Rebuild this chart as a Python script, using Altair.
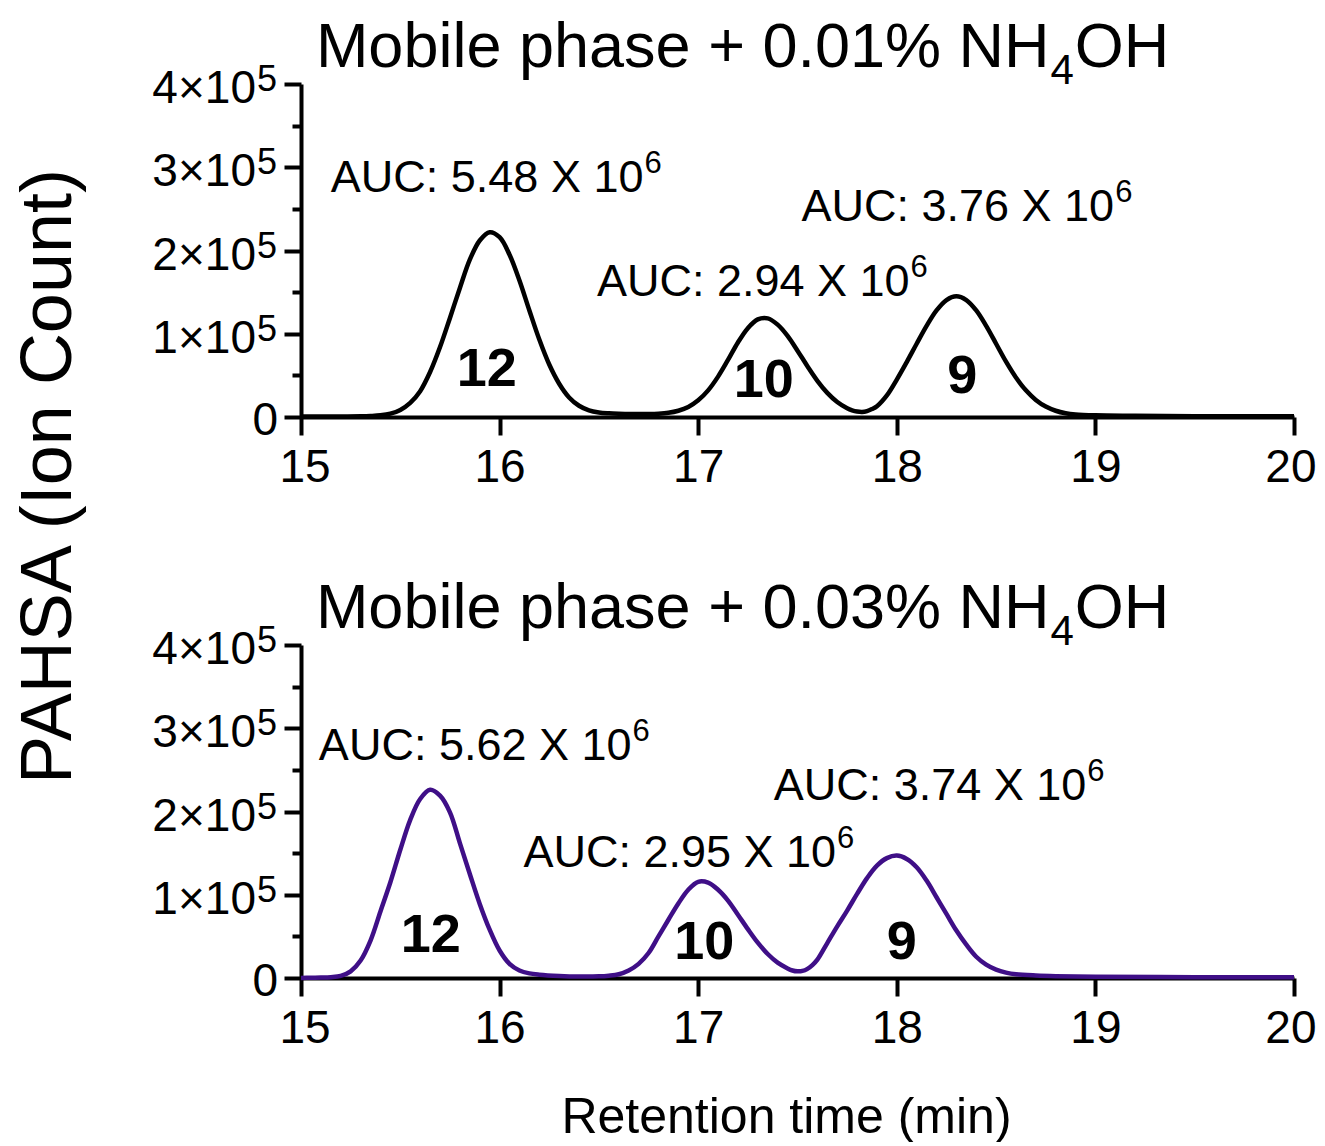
import altair as alt
import pandas as pd

FONT = "Liberation Sans"

# ---- Trace 1: Mobile phase + 0.01% NH4OH (ion count, thousands) ----
top_t = [15.0, 15.1, 15.2, 15.3, 15.35, 15.4, 15.45, 15.5, 15.55, 15.6, 15.65, 15.7, 15.75, 15.8,
         15.85, 15.9, 15.95, 16.0, 16.05, 16.1, 16.15, 16.2, 16.25, 16.3, 16.35, 16.4, 16.45, 16.5,
         16.55, 16.6, 16.7, 16.8, 16.85, 16.9, 16.95, 17.0, 17.05, 17.1, 17.15, 17.2, 17.25, 17.3,
         17.35, 17.4, 17.45, 17.5, 17.55, 17.6, 17.65, 17.7, 17.75, 17.775, 17.8, 17.825, 17.85,
         17.875, 17.9, 17.95, 18.0, 18.05, 18.1, 18.15, 18.2, 18.25, 18.3, 18.35, 18.4, 18.45,
         18.5, 18.55, 18.6, 18.65, 18.7, 18.75, 18.8, 18.85, 18.9, 19.0, 19.2, 19.5, 20.0]
top_v = [0.5, 0.5, 0.5, 0.8, 1.2, 2, 4, 8.5, 17, 31, 54, 84, 119, 155,
         189, 212, 222, 216, 195, 164, 128, 93, 63, 40, 23.5, 13.5, 8, 5.5,
         4.5, 4, 3.5, 4, 5, 7.5, 12, 20, 32, 48.5, 68.5, 89.5, 106.7, 117.2,
         118.5, 111, 97.5, 79.7, 61, 43.5, 29, 18, 10.5, 8, 6.5, 6, 7,
         9.5, 13, 26, 45, 66, 88, 109.4, 128, 140.5, 145, 140.5, 128, 109.4,
         88, 66.5, 47.5, 32, 20.5, 12.5, 7.5, 4.5, 3, 2, 1.5, 1, 0.8]

# ---- Trace 2: Mobile phase + 0.03% NH4OH (ion count, thousands) ----
bot_t = [15.0, 15.05, 15.1, 15.15, 15.2, 15.25, 15.3, 15.35, 15.4, 15.45, 15.5, 15.55, 15.6,
         15.65, 15.7, 15.75, 15.8, 15.85, 15.9, 15.95, 16.0, 16.05, 16.1, 16.15, 16.2, 16.3,
         16.4, 16.5, 16.55, 16.6, 16.65, 16.7, 16.75, 16.8, 16.85, 16.9, 16.95, 17.0, 17.05,
         17.1, 17.15, 17.2, 17.25, 17.3, 17.35, 17.4, 17.45, 17.475, 17.5, 17.525, 17.55, 17.575,
         17.6, 17.65, 17.7, 17.75, 17.8, 17.85, 17.9, 17.95, 18.0, 18.05, 18.1, 18.15, 18.2,
         18.25, 18.3, 18.35, 18.4, 18.45, 18.5, 18.55, 18.6, 18.7, 18.8, 19.0, 19.5, 20.0]
bot_v = [0, 0.3, 0.5, 1, 2.5, 8, 21, 45, 80, 115, 154, 190, 215,
         226, 219, 199, 162, 125, 89, 58, 33, 17, 9, 5.5, 4, 2.5,
         1.8, 2, 2.8, 4.5, 9, 17, 30, 50, 70, 89.5, 106, 115.5, 114.5,
         106, 93, 76, 58.7, 42.4, 28.8, 18.4, 11.5, 9, 8, 8.5, 11, 15.5,
         22, 42, 62, 81, 101, 120, 135, 144, 147, 143, 133, 117, 97,
         77, 57, 40, 25.5, 16, 10, 6.5, 4.5, 3, 2.2, 1.5, 1, 0.8]

# ---- Text ----
top_title = ["Mobile phase + 0.01% NH", "4", "OH"]
bot_title = ["Mobile phase + 0.03% NH", "4", "OH"]
title_x = 15.075
title_y = 420000

top_auc_text = ["AUC: 5.48 X 10", "AUC: 2.94 X 10", "AUC: 3.76 X 10"]
top_auc_x = [15.15, 16.49, 17.52]
top_auc_y = [270000, 145000, 235000]
top_iso_text = ["12", "10", "9"]
top_iso_x = [15.935, 17.33, 18.33]
top_iso_y = [37000, 24000, 29000]

bot_auc_text = ["AUC: 5.62 X 10", "AUC: 2.95 X 10", "AUC: 3.74 X 10"]
bot_auc_x = [15.09, 16.12, 17.38]
bot_auc_y = [262000, 133000, 214000]
bot_iso_text = ["12", "10", "9"]
bot_iso_x = [15.653, 17.03, 18.025]
bot_iso_y = [31000, 23000, 23000]

auc_exponent = "6"
x_ticks = [15, 16, 17, 18, 19, 20]
y_ticks = [i * 50000 for i in range(9)]
y_major = [100000, 200000, 300000, 400000]
y_major_base = ["1\u00d710", "2\u00d710", "3\u00d710", "4\u00d710"]
y_major_exp = ["5", "5", "5", "5"]
y_zero = [0]
y_zero_label = ["0"]

# Arial / Liberation Sans advance widths (per 1000 em), used to place super/subscripts
ADV = {" ": 278, "A": 667, "U": 722, "C": 722, ":": 278, ".": 278, "X": 667, "M": 833,
       "o": 556, "b": 556, "i": 222, "l": 222, "e": 556, "p": 556, "h": 556, "a": 556,
       "s": 500, "+": 584, "%": 889, "N": 722, "H": 722, "O": 778}


def text_width(s, size):
    return sum(ADV.get(c, 556) for c in s) * size / 1000.0


W, H = 993, 333
TITLE_FS, SUB_FS = 63, 42
AUC_FS, SUP_FS = 45, 31
YL_FS, YL_SUP_FS = 46, 36
XL_FS = 46
xscale = alt.Scale(domain=[15, 20], nice=False, zero=False)
yscale = alt.Scale(domain=[0, 400000], nice=False)


def panel(t, v, color, title, auc_text, auc_x, auc_y, iso_text, iso_x, iso_y, first):
    df = pd.DataFrame({"t": t, "v": [k * 1000 for k in v]})
    xaxis = alt.Axis(
        values=x_ticks, format="d", labelFont=FONT, labelFontSize=XL_FS, labelColor="black",
        labelPadding=10, labelFlush=True, labelFlushOffset=22,
        domainColor="black", domainWidth=4,
        tickColor="black", tickWidth=4, tickSize=18, grid=False,
        title=None if first else "Retention time (min)",
        titleFont=FONT, titleFontSize=50, titleFontWeight="normal", titleColor="black",
        titleX=485, titleY=154, titleAlign="center", titleBaseline="alphabetic",
    )
    yaxis = alt.Axis(
        values=y_ticks, labels=False, domainColor="black",
        domainWidth=4, tickColor="black", tickWidth=4,
        tickSize={"condition": {"test": "datum.value % 100000 === 0", "value": 17}, "value": 9},
        grid=False,
        title="PAHSA (Ion Count)" if first else None,
        titleFont=FONT, titleFontSize=72, titleFontWeight="normal", titleColor="black",
        titleX=-231, titleY=392, titleAngle=270, titleAlign="center", titleBaseline="alphabetic",
    )
    enc_x = alt.X("x:Q", scale=xscale)
    enc_y = alt.Y("y:Q", scale=yscale)

    line = alt.Chart(df).mark_line(color=color, strokeWidth=4.5,
                                   interpolate="catmull-rom").encode(
        x=alt.X("t:Q", scale=xscale, axis=xaxis),
        y=alt.Y("v:Q", scale=yscale, axis=yaxis),
    )

    # y tick labels with a real superscript exponent
    ymdf = pd.DataFrame({"y": y_major, "base": y_major_base, "exp": y_major_exp})
    yzdf = pd.DataFrame({"y": y_zero, "base": y_zero_label})
    sup_w = text_width("5", YL_SUP_FS)
    yl_base = alt.Chart(ymdf).mark_text(
        font=FONT, fontSize=YL_FS, align="right", baseline="alphabetic", color="black",
        dx=-(24 + sup_w + 1), dy=19
    ).encode(x=alt.value(0), y=enc_y, text="base:N")
    yl_exp = alt.Chart(ymdf).mark_text(
        font=FONT, fontSize=YL_SUP_FS, align="right", baseline="alphabetic", color="black",
        dx=-24, dy=7
    ).encode(x=alt.value(0), y=enc_y, text="exp:N")
    yl_zero = alt.Chart(yzdf).mark_text(
        font=FONT, fontSize=YL_FS, align="right", baseline="alphabetic", color="black",
        dx=-23, dy=18
    ).encode(x=alt.value(0), y=enc_y, text="base:N")

    # panel title: main text, subscript "4", tail "OH"
    main_w = text_width(title[0], TITLE_FS)
    sub_w = text_width(title[1], SUB_FS)
    tdf = pd.DataFrame({"x": [title_x], "y": [title_y], "a": [title[0]], "b": [title[1]],
                        "c": [title[2]]})
    t_main = alt.Chart(tdf).mark_text(font=FONT, fontSize=TITLE_FS, align="left",
                                      baseline="alphabetic", color="black").encode(
        x=enc_x, y=enc_y, text="a:N")
    t_sub = alt.Chart(tdf).mark_text(font=FONT, fontSize=SUB_FS, align="left",
                                     baseline="alphabetic", color="black",
                                     dx=main_w + 1, dy=17).encode(
        x=enc_x, y=enc_y, text="b:N")
    t_tail = alt.Chart(tdf).mark_text(font=FONT, fontSize=TITLE_FS, align="left",
                                      baseline="alphabetic", color="black",
                                      dx=main_w + sub_w + 2).encode(
        x=enc_x, y=enc_y, text="c:N")

    adf = pd.DataFrame({"x": auc_x, "y": auc_y, "label": auc_text,
                        "sup": [auc_exponent] * len(auc_text)})
    auc = alt.Chart(adf).mark_text(
        font=FONT, fontSize=AUC_FS, align="left", baseline="alphabetic", color="black"
    ).encode(x=enc_x, y=enc_y, text="label:N")
    auc_sup = alt.Chart(adf).mark_text(
        font=FONT, fontSize=SUP_FS, align="left", baseline="alphabetic", color="black",
        dx=text_width(auc_text[0], AUC_FS) + 1, dy=-19
    ).encode(x=enc_x, y=enc_y, text="sup:N")

    idf = pd.DataFrame({"x": iso_x, "y": iso_y, "label": iso_text})
    iso = alt.Chart(idf).mark_text(
        font=FONT, fontSize=54, fontWeight="bold", align="center", baseline="alphabetic",
        color="black"
    ).encode(x=enc_x, y=enc_y, text="label:N")

    return alt.layer(line, yl_base, yl_exp, yl_zero, t_main, t_sub, t_tail,
                     auc, auc_sup, iso).properties(width=W, height=H)


top = panel(top_t, top_v, "black", top_title,
            top_auc_text, top_auc_x, top_auc_y, top_iso_text, top_iso_x, top_iso_y, True)
bot = panel(bot_t, bot_v, "#3f0f87", bot_title,
            bot_auc_text, bot_auc_x, bot_auc_y, bot_iso_text, bot_iso_x, bot_iso_y, False)

chart = alt.vconcat(top, bot, spacing=228, bounds="flush").properties(
    padding={"left": 4, "top": 9, "right": 0, "bottom": 0},
    background="white",
).configure_view(stroke=None)

chart.save("out.html", embed_options={"renderer": "svg", "actions": False})
